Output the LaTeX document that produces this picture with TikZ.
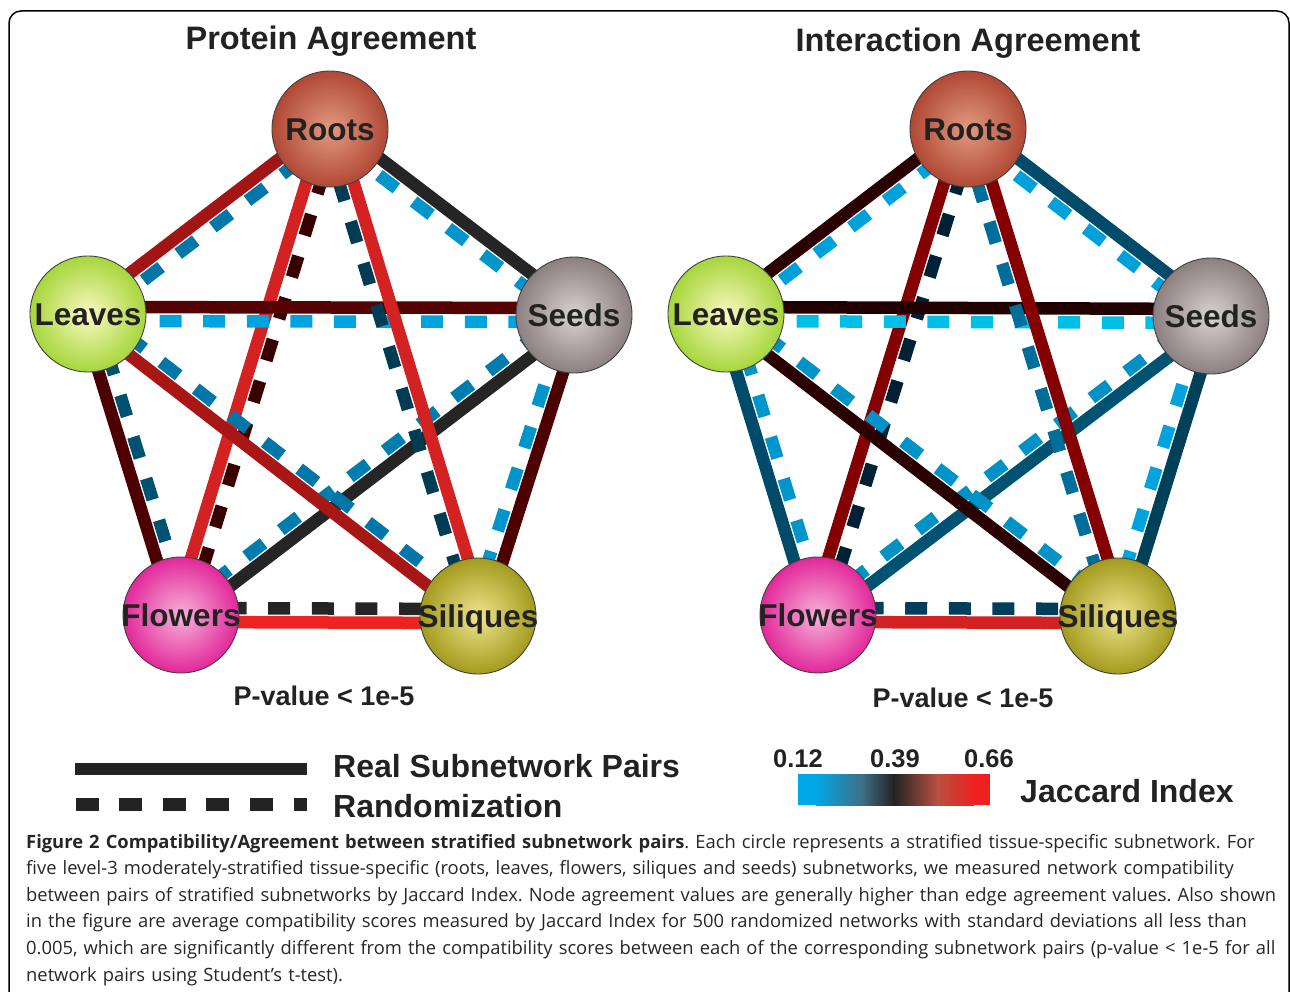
\documentclass[tikz,border=0pt]{standalone}
\usepackage{fontspec}
\setmainfont{Open Sans}
\newfontfamily\figfont{Liberation Sans}
\usetikzlibrary{calc}

\pgfdeclarelayer{edges}
\pgfsetlayers{edges,main}

% Jaccard colour scale
\definecolor{jlow}{HTML}{00A8E8}
\definecolor{jlowmid}{HTML}{3D6F86}
\definecolor{jmid}{HTML}{232323}
\definecolor{jmidhigh}{HTML}{B85040}
\definecolor{jhigh}{HTML}{EE2020}
\definecolor{txt}{HTML}{222222}
% edge colours
\definecolor{redA}{HTML}{A31515}
\definecolor{redB}{HTML}{D42222}
\definecolor{redC}{HTML}{EE2222}
\definecolor{redD}{HTML}{850000}
\definecolor{maroonA}{HTML}{4C0000}
\definecolor{maroonB}{HTML}{2B0000}
\definecolor{blackA}{HTML}{252525}
\definecolor{blueA}{HTML}{0077A8}
\definecolor{blueB}{HTML}{0096CC}
\definecolor{blueC}{HTML}{00A3DD}
\definecolor{tealA}{HTML}{004B69}
\definecolor{tealB}{HTML}{002035}

\tikzset{
  tissue/.style={circle, draw=black!75, line width=0.9pt, minimum size=116pt,
    inner sep=0pt, text height=22.5pt, text depth=0pt, text=txt,
    font=\figfont\bfseries\fontsize{31.5}{36}\selectfont},
  roots/.style={tissue, inner color={rgb,255:red,227;green,154;blue,128}, outer color={rgb,255:red,176;green,72;blue,53}},
  leaves/.style={tissue, inner color={rgb,255:red,251;green,248;blue,192}, outer color={rgb,255:red,166;green,214;blue,60}},
  seeds/.style={tissue, inner color={rgb,255:red,217;green,210;blue,210}, outer color={rgb,255:red,140;green,127;blue,128}},
  flowers/.style={tissue, inner color={rgb,255:red,246;green,179;blue,217}, outer color={rgb,255:red,226;green,40;blue,154}},
  siliques/.style={tissue, inner color={rgb,255:red,239;green,228;blue,140}, outer color={rgb,255:red,163;green,155;blue,30}},
  real/.style={line width=12.5pt},
  rand/.style={line width=12.5pt, dash pattern=on 22pt off 21.6pt},
  heading/.style={anchor=base, inner sep=0pt, text=txt, font=\figfont\bfseries\fontsize{32.5}{38}\selectfont},
  pval/.style={anchor=base, inner sep=0pt, text=txt, font=\figfont\bfseries\fontsize{27}{32}\selectfont},
  legtext/.style={anchor=base west, inner sep=0pt, text=txt, font=\figfont\bfseries\fontsize{32}{38}\selectfont},
  scaletext/.style={anchor=base, inner sep=0pt, text=txt, font=\figfont\bfseries\fontsize{25.5}{30}\selectfont},
}

% solid pair on the right of A->B, randomization on the left
\newcommand{\agree}[4]{%
  \draw[real,draw=#3] ($(#1.center)!7pt!-90:(#2.center)$) -- ($(#2.center)!7pt!90:(#1.center)$);
  \draw[rand,draw=#4] ($(#1.center)!7pt!90:(#2.center)$) -- ($(#2.center)!7pt!-90:(#1.center)$);
}
\newcommand{\tname}[1]{\makebox[0pt]{#1}}

\begin{document}
\frenchspacing
\begin{tikzpicture}[x=1pt,y=-1pt]
\useasboundingbox (0,0) rectangle (1290,992);
\draw[line width=1.5pt, rounded corners=12pt] (9,1000) -- (9,11) -- (1289,11) -- (1289,1000);

% protein agreement
\node[heading] (ptitle) at (331,50) {Protein Agreement};
\node[roots]    (proots)    at (330,129) {\tname{Roots}};
\node[leaves]   (pleaves)   at (88,314)  {\tname{Leaves}};
\node[seeds]    (pseeds)    at (574,315) {\tname{Seeds}};
\node[flowers]  (pflowers)  at (181,615) {\tname{Flowers}};
\node[siliques] (psiliques) at (478,616) {\tname{Siliques}};
\node[pval] (ppval) at (324,705) {P-value < 1e-5};

\begin{pgfonlayer}{edges}
\agree{proots}{pleaves}{redA}{blueA}
\agree{pleaves}{pflowers}{maroonA}{tealA!85!blueA}
\agree{pflowers}{psiliques}{redC}{blackA}
\agree{psiliques}{pseeds}{maroonA}{blueB}
\agree{pseeds}{proots}{blackA}{blueB}
\agree{proots}{pflowers}{redB}{maroonA!75!black}
\agree{pflowers}{pseeds}{blackA}{blueA!80!blueB}
\agree{pseeds}{pleaves}{maroonA!90!redA}{blueC}
\agree{pleaves}{psiliques}{redA!90!redB}{blueA}
\agree{psiliques}{proots}{redB}{tealA!80!black}
\end{pgfonlayer}

% interaction agreement
\node[heading] (ititle) at (968,52) {Interaction Agreement};
\node[roots]    (iroots)    at (968,129) {\tname{Roots}};
\node[leaves]   (ileaves)   at (726,314) {\tname{Leaves}};
\node[seeds]    (iseeds)    at (1211,316) {\tname{Seeds}};
\node[flowers]  (iflowers)  at (818,615) {\tname{Flowers}};
\node[siliques] (isiliques) at (1118,616) {\tname{Siliques}};
\node[pval] (ipval) at (963,707) {P-value < 1e-5};

\begin{pgfonlayer}{edges}
\agree{iroots}{ileaves}{maroonB}{blueC!80!blueB}
\agree{ileaves}{iflowers}{tealA}{blueB}
\agree{iflowers}{isiliques}{redB}{tealA!70!tealB}
\agree{isiliques}{iseeds}{tealA!85!black}{blueC}
\agree{iseeds}{iroots}{tealA}{blueC!80!blueB}
\agree{iroots}{iflowers}{redD}{tealB}
\agree{iflowers}{iseeds}{tealA!85!blueA}{blueB!85!blueA}
\agree{iseeds}{ileaves}{maroonB!80!black}{blueC!70!cyan}
\agree{ileaves}{isiliques}{maroonB}{blueB!90!blueA}
\agree{isiliques}{iroots}{redD}{blueA!80!tealA}
\end{pgfonlayer}

% legend
\coordinate (realL) at (75,769);
\coordinate (realR) at (307,769);
\coordinate (randL) at (75.5,804.5);
\coordinate (randR) at (307,804.5);
\draw[real, jmid] (realL) -- (realR);
\draw[rand, jmid, dash pattern=on 23pt off 20.6pt] (randL) -- (randR);
\node[legtext] (legreal) at (333,777) {Real Subnetwork Pairs};
\node[legtext] (legrand) at (333,817) {Randomization};

% colour scale
\fill[jlow] (798,774) rectangle (816,805);
\shade[left color=jlow, right color=jlowmid] (815.5,774) rectangle (862,805);
\shade[left color=jlowmid, right color=jmid] (861.5,774) rectangle (894,805);
\shade[left color=jmid, right color=jmidhigh] (893.5,774) rectangle (938,805);
\shade[left color=jmidhigh, right color=jhigh] (937.5,774) rectangle (974,805);
\fill[jhigh] (973.5,774) rectangle (990,805);
\node[scaletext] (jlo) at (798,767) {0.12};
\node[scaletext] (jmi) at (895,767) {0.39};
\node[scaletext] (jhi) at (989,767) {0.66};
\node[legtext] (jacc) at (1020,802) {Jaccard Index};

% caption
\node[anchor=base west, inner sep=0pt, text width=1262pt, align=left, text=black!85,
  font=\fontsize{18.35}{26.6}\selectfont] (caption) at (26,848)
  {\textbf{Figure 2 Compatibility/Agreement between stratified subnetwork pairs}. Each circle represents a stratified tissue-specific subnetwork. For\\
   five level-3 moderately-stratified tissue-specific (roots, leaves, flowers, siliques and seeds) subnetworks, we measured network compatibility\\
   between pairs of stratified subnetworks by Jaccard Index. Node agreement values are generally higher than edge agreement values. Also shown\\
   in the figure are average compatibility scores measured by Jaccard Index for 500 randomized networks with standard deviations all less than\\
   0.005, which are significantly different from the compatibility scores between each of the corresponding subnetwork pairs (p-value < 1e-5 for all\\
   network pairs using Student’s t-test).};
\end{tikzpicture}
\end{document}
